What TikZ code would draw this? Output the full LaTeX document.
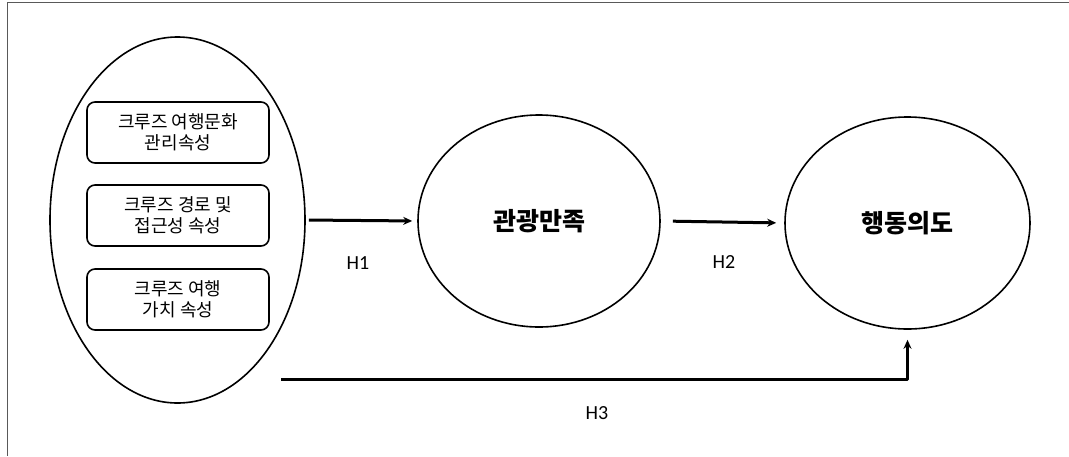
\documentclass[tikz,border=0pt]{standalone}
\usepackage{fontspec}
\setmainfont{Carlito}
\newfontfamily\kor{Noto Sans CJK KR}
\usetikzlibrary{shapes.geometric,positioning,arrows.meta}

\begin{document}
\begin{tikzpicture}[x=1pt,y=-1pt,line join=round,>={Stealth[length=9pt,width=8pt]}]
	\tikzset{attrbox/.style={draw,line width=1.6pt,rounded corners=8pt,minimum width=182pt,minimum height=61pt,align=center,font=\kor\fontsize{18}{21}\selectfont},
		construct/.style={draw,ellipse,line width=1.6pt,inner sep=0pt,font=\kor\bfseries\fontsize{25}{28}\selectfont},
		path/.style={->,line width=3pt},
		hyp/.style={font=\fontsize{20}{22}\selectfont}}
	\useasboundingbox (0,0) rectangle (1069,456);
	\draw[line width=1pt,black!65] (1069,2)--(7,2)--(7,456);
	\node[construct,minimum width=255pt,minimum height=366pt] (attr) at (177.5,220) {};
	\foreach \y/\txt/\nm in {132.5/{크루즈 여행문화\\관리속성}/culture,215.5/{크루즈 경로 및\\접근성 속성}/route,299.5/{크루즈 여행\\가치 속성}/value}
		\node[attrbox] (\nm) at (178,\y) {\txt};
	\node[construct,minimum width=242pt,minimum height=212pt] (sat) at (539,221) {관광만족};
	\node[construct,minimum width=245pt,minimum height=212pt] (intent) at (907.5,223) {행동의도};
	\coordinate (direct) at (281,379);
	\draw[path,shorten <=3pt,shorten >=5pt] (attr.east) -- (sat.west);
	\draw[path,shorten <=12pt,shorten >=8pt] (sat.east) -- (intent.west);
	\draw[path,shorten >=10pt] (direct) -| (intent.south);
	\node[hyp] (h1) at (358,263) {H1};
	\node[hyp] (h2) at (724,262) {H2};
	\node[hyp] (h3) at (597,413) {H3};
\end{tikzpicture}
\end{document}
